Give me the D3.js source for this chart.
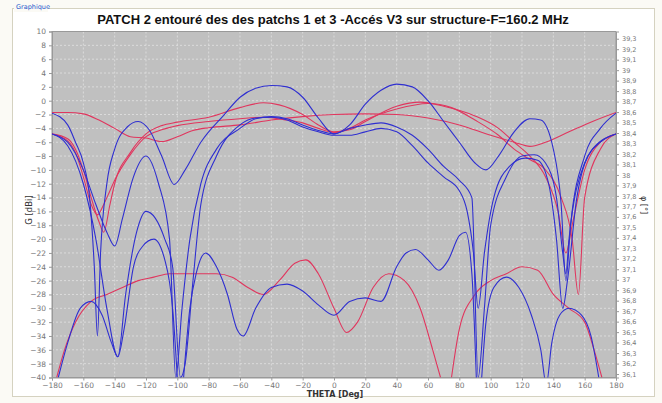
<!DOCTYPE html>
<html><head><meta charset="utf-8">
<script src="https://cdn.jsdelivr.net/npm/d3@7"></script>
<style>
html,body{margin:0;padding:0;background:#fff;}
svg{display:block;}
</style></head>
<body>
<svg id="c" width="662" height="403"></svg>
<script>
const title = "PATCH 2 entouré des des patchs 1 et 3 -Accés V3 sur structure-F=160.2 MHz";
const xTicks = d3.range(-180, 181, 20);
const yTicks = d3.range(-40, 11, 2);
const y2Ticks = d3.range(361, 394, 1).map(v => v / 10);

// upper-level curves (G dBi vs THETA deg)
const redFlat = [[-180,-1.7],[-170,-1.7],[-160,-1.9],[-150,-2.8],[-140,-4.0],[-130,-5.2],[-120,-5.4],[-110,-5.9],[-100,-5.2],[-90,-4.3],[-80,-3.9],[-60,-3.5],[-40,-2.8],[-20,-2.3],[0,-2.0],[20,-1.9],[40,-2.0],[60,-2.5],[80,-3.5],[100,-5.0],[115,-6.0],[125,-6.6],[135,-6.0],[150,-4.5],[165,-3.0],[180,-1.7]];
const redA = [[-180,-4.8],[-170,-5.5],[-165,-7],[-160,-10],[-155,-14],[-150,-17.5],[-147,-19],[-143,-15],[-140,-12],[-130,-7.5],[-120,-4.8],[-110,-3.6],[-100,-3.1],[-80,-2.4],[-60,-1.0],[-45,-0.3],[-35,-0.6],[-20,-2],[-10,-3.5],[0,-4.5],[10,-4.2],[20,-3],[40,-0.8],[55,-0.2],[70,-0.8],[90,-2.2],[105,-4],[115,-6],[125,-8],[135,-11],[143,-16],[148,-22],[152,-18],[160,-10],[170,-6],[180,-4.8]];
const redB = [[-180,-4.8],[-170,-5.8],[-165,-7.5],[-160,-11],[-155,-15],[-151,-16.5],[-147,-15],[-143,-13],[-140,-11.5],[-130,-7.8],[-120,-5.2],[-110,-4.2],[-100,-3.6],[-80,-3.0],[-60,-2.6],[-45,-2.4],[-30,-2.8],[-20,-3.2],[-10,-4.0],[0,-4.6],[10,-4.0],[20,-2.8],[40,-1.2],[60,-0.4],[75,-1.0],[90,-2.8],[105,-5],[115,-7],[125,-8.5],[135,-10],[145,-14],[152,-20],[156,-28],[160,-14],[170,-7],[180,-4.8]];
const blueA = [[-180,-1.8],[-170,-3.5],[-165,-6],[-160,-9],[-156,-14],[-153,-24],[-151,-34],[-149,-22],[-145,-12],[-140,-7],[-132,-3.8],[-125,-3.0],[-118,-4.2],[-110,-8],[-102,-12.1],[-95,-10],[-85,-6],[-70,-2],[-60,0.5],[-50,1.8],[-40,2.2],[-30,2.0],[-20,0.5],[-10,-2.5],[0,-4.8],[10,-3.5],[20,-0.5],[30,1.5],[40,2.4],[50,2.0],[60,0],[70,-3],[80,-6],[90,-9],[97,-10],[105,-8],[115,-4.5],[125,-2.6],[132,-2.8],[140,-7],[145,-15],[148,-26],[151,-18],[160,-8],[170,-4],[180,-1.8]];
const blueB = [[-180,-4.8],[-170,-6],[-160,-10],[-152,-15],[-145,-19],[-140,-21],[-135,-17],[-128,-11],[-120,-8],[-112,-12],[-105,-20],[-101,-40],[-97,-30],[-92,-20],[-85,-12],[-75,-7],[-60,-4],[-50,-2.6],[-40,-2.3],[-30,-2.6],[-20,-3.5],[-10,-4.3],[0,-4.8],[10,-4],[20,-3.5],[30,-3.2],[40,-3.8],[50,-5],[60,-7],[70,-9.5],[80,-11.5],[88,-14],[92,-40],[96,-30],[100,-18],[110,-11],[120,-8],[128,-7.8],[135,-9],[142,-14],[146,-22],[148,-25],[150,-20],[160,-9],[170,-6],[180,-4.8]];
const blueC = [[-180,-4.8],[-170,-6.5],[-160,-12],[-152,-20],[-145,-30],[-138,-37],[-133,-28],[-126,-19],[-120,-16],[-114,-17],[-108,-20],[-103,-24],[-98,-40],[-95,-38],[-90,-26],[-85,-15],[-75,-8],[-60,-3.5],[-50,-2.5],[-40,-2.4],[-30,-2.8],[-20,-3.8],[-10,-4.5],[0,-5.0],[10,-5.0],[20,-4.5],[30,-4],[40,-4.5],[50,-6.5],[60,-9],[70,-11],[80,-13],[85,-16],[89,-22],[92,-30],[96,-22],[102,-14],[112,-9.5],[122,-8.3],[130,-8.6],[137,-12],[142,-20],[146,-30],[149,-26],[155,-14],[165,-7],[180,-4.8]];

// lower-level curves
const redLowA = [[-177,-40],[-172,-36],[-165,-32],[-155,-29],[-145,-28],[-135,-27],[-125,-26],[-115,-25.5],[-105,-25],[-90,-25],[-75,-25],[-65,-25.5],[-55,-27],[-45,-28],[-35,-26],[-25,-23.5],[-18,-23],[-10,-25],[0,-30],[8,-33.5],[15,-32],[25,-27],[35,-25],[45,-26],[55,-30],[63,-36],[68,-40]];
const redLowB = [[75,-40],[80,-33],[90,-28],[100,-26],[110,-25],[120,-24],[130,-24.5],[140,-28],[150,-30],[160,-32],[166,-36],[171,-40]];
const blueLowA = [[-176,-40],[-170,-35],[-162,-30],[-155,-29],[-148,-31],[-142,-35],[-138,-37],[-134,-33],[-128,-24],[-122,-21],[-115,-20],[-108,-23],[-103,-30],[-100,-40]];
const blueLowB = [[-96,-40],[-92,-30],[-88,-25],[-82,-22],[-75,-24],[-68,-28],[-62,-33],[-58,-34],[-50,-30],[-40,-27],[-30,-26.5],[-20,-27.5],[-10,-29.5],[0,-31],[10,-29],[20,-28.5],[30,-29],[40,-24],[46,-22],[52,-21.5],[60,-23],[67,-24.5],[73,-23],[80,-19.5],[84,-19],[88,-25],[91,-41]];
const blueLowC = [[94,-41],[97,-32],[102,-27],[110,-25.5],[118,-27],[126,-31],[132,-36],[135.5,-41],[139,-35],[144,-31],[150,-30],[158,-31],[164,-34],[169,-40]];

const svg = d3.select("#c");
const W = 662, H = 403;
const m = {l: 52, r: 616, t: 31.5, b: 377.5};

// frame
svg.append("rect").attr("x",0).attr("y",0).attr("width",W).attr("height",H).attr("fill","#fbfaf5");
svg.append("rect").attr("x",12.5).attr("y",8.5).attr("width",642).attr("height",388).attr("fill","#fff").attr("stroke","#d5d2c0");
svg.append("rect").attr("x",14).attr("y",2).attr("width",34).attr("height",10).attr("fill","#fbfaf5");
svg.append("text").attr("x",16).attr("y",9).attr("font-family","DejaVu Sans, sans-serif").attr("font-size",6.5).attr("fill","#2255cc").text("Graphique");

const x = d3.scaleLinear().domain([-180,180]).range([m.l, m.r]);
const y = d3.scaleLinear().domain([-40,10]).range([m.b, m.t]);
const y2 = d3.scaleLinear().domain([36.067, 39.369]).range([m.b, m.t]);

svg.append("rect").attr("x",m.l).attr("y",m.t).attr("width",m.r-m.l).attr("height",m.b-m.t).attr("fill","#c0c0c0");

const grid = svg.append("g").attr("stroke","#e2e2e2").attr("stroke-width",0.8).attr("stroke-dasharray","2,2");
xTicks.slice(1,-1).forEach(v => grid.append("line").attr("x1",x(v)).attr("x2",x(v)).attr("y1",m.t).attr("y2",m.b));
yTicks.slice(1,-1).forEach(v => grid.append("line").attr("x1",m.l).attr("x2",m.r).attr("y1",y(v)).attr("y2",y(v)));

svg.append("rect").attr("x",m.l).attr("y",m.t).attr("width",m.r-m.l).attr("height",m.b-m.t).attr("fill","none").attr("stroke","#999");

const fmt2 = v => { const s = d3.format(".1f")(v); return (s.endsWith(".0") ? s.slice(0,-2) : s).replace(".", ","); };
const axStyle = g => {
  g.select(".domain").attr("stroke","#999");
  g.selectAll(".tick line").attr("stroke","#999");
  g.selectAll(".tick text").attr("fill","#777").attr("font-family","DejaVu Sans, sans-serif").attr("font-size",7.5);
};
svg.append("g").attr("transform",`translate(0,${m.b})`).call(d3.axisBottom(x).tickValues(xTicks).tickSize(3).tickPadding(2)).call(axStyle);
svg.append("g").attr("transform",`translate(${m.l},0)`).call(d3.axisLeft(y).tickValues(yTicks).tickSize(3).tickPadding(3)).call(axStyle);
svg.append("g").attr("transform",`translate(${m.r},0)`).call(d3.axisRight(y2).tickValues(y2Ticks).tickFormat(fmt2).tickSize(3).tickPadding(3)).call(axStyle)
  .selectAll(".tick text").attr("font-size",6.5);

svg.append("defs").append("clipPath").attr("id","clip").append("rect").attr("x",m.l).attr("y",m.t).attr("width",m.r-m.l).attr("height",m.b-m.t);
const line = d3.line().x(d => x(d[0])).y(d => y(d[1])).curve(d3.curveMonotoneX);
const plot = svg.append("g").attr("clip-path","url(#clip)").attr("fill","none").attr("stroke-width",1.1);
const RED = "#e0365e", BLUE = "#2f2fd0";
[[redFlat,RED],[redA,RED],[redB,RED],[redLowA,RED],[redLowB,RED],[blueA,BLUE],[blueB,BLUE],[blueC,BLUE],[blueLowA,BLUE],[blueLowB,BLUE],[blueLowC,BLUE]]
  .forEach(([d,c]) => plot.append("path").attr("d", line(d)).attr("stroke", c));

svg.append("text").attr("x",333).attr("y",24).attr("text-anchor","middle").attr("font-family","Liberation Sans, Arial, sans-serif").attr("font-weight","bold").attr("font-size",13).attr("fill","#111").text(title);
svg.append("text").attr("x",335).attr("y",397).attr("text-anchor","middle").attr("font-family","DejaVu Sans, sans-serif").attr("font-weight","bold").attr("font-size",8).attr("fill","#333").text("THETA [Deg]");
svg.append("text").attr("transform","translate(32,210) rotate(-90)").attr("text-anchor","middle").attr("font-family","DejaVu Sans, sans-serif").attr("font-size",8.5).attr("fill","#333").text("G [dBi]");
svg.append("text").attr("transform","translate(641,205) rotate(90)").attr("text-anchor","middle").attr("font-family","DejaVu Sans, sans-serif").attr("font-size",8).attr("fill","#333").text("φ [°]");
</script>
</body></html>
